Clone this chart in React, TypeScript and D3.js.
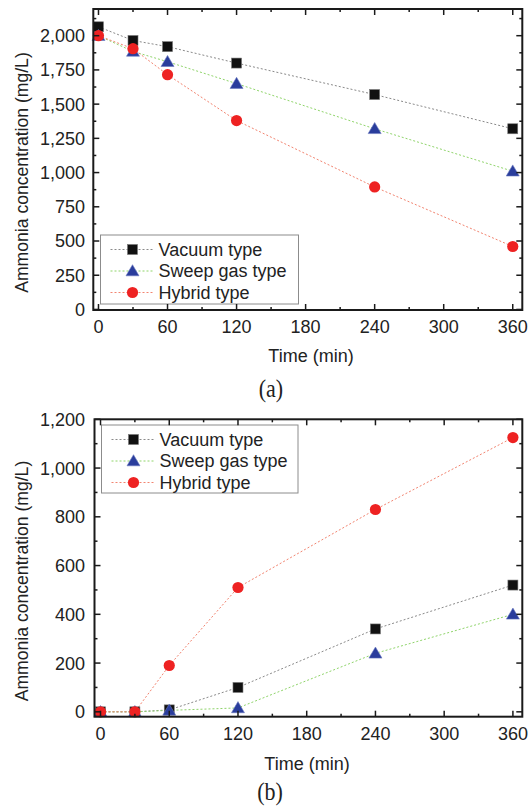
import React from 'react';
import * as d3 from 'd3';

// sampling times (min)
const times = [0, 30, 60, 120, 240, 360];

// (a) ammonia concentration in the feed, mg/L
const vacuumA = [2065, 1965, 1920, 1800, 1570, 1320];
const sweepA = [2000, 1885, 1810, 1650, 1320, 1010];
const hybridA = [2000, 1905, 1715, 1380, 895, 460];

// (b) ammonia concentration in the permeate, mg/L
const vacuumB = [0, 0, 8, 100, 340, 520];
const sweepB = [0, 0, 6, 16, 240, 400];
const hybridB = [0, 0, 190, 510, 830, 1125];

const seriesNames = ['Vacuum type', 'Sweep gas type', 'Hybrid type'];
const xMajor = [0, 60, 120, 180, 240, 300, 360];
const xMinor = [30, 90, 150, 210, 270, 330];
const yMajorA = [0, 250, 500, 750, 1000, 1250, 1500, 1750, 2000];
const yMinorA = [125, 375, 625, 875, 1125, 1375, 1625, 1875, 2125];
const yMajorB = [0, 200, 400, 600, 800, 1000, 1200];
const yMinorB = [100, 300, 500, 700, 900, 1100];

const styles = [
  { line: '#8a8a8a', fill: '#111111', shape: 'square' },
  { line: '#8fd46a', fill: '#2a3d9c', shape: 'triangle' },
  { line: '#f28470', fill: '#ee2222', shape: 'circle' },
];

const FONT = 'Arial, "Liberation Sans", Helvetica, sans-serif';
const TXT = '#222';

function Marker({ shape, x, y, fill }) {
  if (shape === 'square') {
    return <rect x={x - 5} y={y - 5} width={10} height={10} fill={fill} stroke="#777" strokeWidth={0.6} />;
  }
  if (shape === 'triangle') {
    const p = d3.path();
    p.moveTo(x, y - 6.3);
    p.lineTo(x + 6.5, y + 4.8);
    p.lineTo(x - 6.5, y + 4.8);
    p.closePath();
    return <path d={p.toString()} fill={fill} stroke="#6a78c0" strokeWidth={0.6} />;
  }
  return <circle cx={x} cy={y} r={5.6} fill={fill} />;
}

function Panel({ frame, xDomain, yDomain, yMajor, yMinor, data, legend, yTitleY, xTitle, caption }) {
  const x = d3.scaleLinear().domain(xDomain).range([frame.left, frame.right]);
  const y = d3.scaleLinear().domain(yDomain).range([frame.bottom, frame.top]);
  const fmt = d3.format(',');
  const line = d3
    .line<number>()
    .x((d, i) => x(times[i]))
    .y((d) => y(d));

  return (
    <g>
      {/* connecting lines */}
      {data.map((s, k) => (
        <path key={'l' + k} d={line(s)} fill="none" stroke={styles[k].line} strokeWidth={1} strokeDasharray="2,2" />
      ))}
      {/* markers */}
      {data.map((s, k) =>
        s.map((v, i) => <Marker key={k + '-' + i} shape={styles[k].shape} x={x(times[i])} y={y(v)} fill={styles[k].fill} />)
      )}

      {/* legend */}
      <rect x={legend.x} y={legend.y} width={legend.w} height={legend.h} fill="none" stroke="#8c8c8c" strokeWidth={1} />
      {seriesNames.map((name, k) => {
        const ly = legend.y + 14.5 + k * 21.5;
        return (
          <g key={name}>
            <line x1={legend.x + 10} x2={legend.x + 54} y1={ly} y2={ly} stroke={styles[k].line} strokeWidth={1} strokeDasharray="2,2" />
            <Marker shape={styles[k].shape} x={legend.x + 32} y={ly} fill={styles[k].fill} />
            <text x={legend.x + 58} y={ly} dy="0.36em" fontSize={18} fontFamily={FONT} fontStretch="normal" fill={TXT}>
              {name}
            </text>
          </g>
        );
      })}

      {/* frame */}
      <rect
        x={frame.left}
        y={frame.top}
        width={frame.right - frame.left}
        height={frame.bottom - frame.top}
        fill="none"
        stroke="#1a1a1a"
        strokeWidth={2}
      />

      {/* x ticks, inward on top and bottom */}
      {xMajor.map((t) => (
        <g key={'xM' + t}>
          <line x1={x(t)} x2={x(t)} y1={frame.bottom} y2={frame.bottom - 6} stroke="#1a1a1a" strokeWidth={1.5} />
          <line x1={x(t)} x2={x(t)} y1={frame.top} y2={frame.top + 6} stroke="#1a1a1a" strokeWidth={1.5} />
          <text x={x(t)} y={frame.bottom + 23} textAnchor="middle" fontSize={18} fontFamily={FONT} fill={TXT}>
            {t}
          </text>
        </g>
      ))}
      {xMinor.map((t) => (
        <g key={'xm' + t}>
          <line x1={x(t)} x2={x(t)} y1={frame.bottom} y2={frame.bottom - 3} stroke="#1a1a1a" strokeWidth={1.5} />
          <line x1={x(t)} x2={x(t)} y1={frame.top} y2={frame.top + 3} stroke="#1a1a1a" strokeWidth={1.5} />
        </g>
      ))}

      {/* y ticks, inward on left and right */}
      {yMajor.map((t) => (
        <g key={'yM' + t}>
          <line x1={frame.left} x2={frame.left + 6} y1={y(t)} y2={y(t)} stroke="#1a1a1a" strokeWidth={1.5} />
          <line x1={frame.right} x2={frame.right - 6} y1={y(t)} y2={y(t)} stroke="#1a1a1a" strokeWidth={1.5} />
          <text x={85} y={y(t)} dy="0.36em" textAnchor="end" fontSize={18} fontFamily={FONT} fill={TXT}>
            {fmt(t)}
          </text>
        </g>
      ))}
      {yMinor
        .filter((t) => t <= yDomain[1])
        .map((t) => (
          <g key={'ym' + t}>
            <line x1={frame.left} x2={frame.left + 3} y1={y(t)} y2={y(t)} stroke="#1a1a1a" strokeWidth={1.5} />
            <line x1={frame.right} x2={frame.right - 3} y1={y(t)} y2={y(t)} stroke="#1a1a1a" strokeWidth={1.5} />
          </g>
        ))}

      {/* axis titles */}
      <text x={xTitle.x} y={xTitle.y} textAnchor="middle" fontSize={18} fontFamily={FONT} fill={TXT}>
        Time (min)
      </text>
      <text
        transform={`translate(28,${yTitleY}) rotate(-90)`}
        textAnchor="middle"
        fontSize={17.6}
        fontFamily={FONT}
        fill={TXT}
      >
        Ammonia concentration (mg/L)
      </text>

      {/* caption */}
      <text
        transform={`translate(${caption.x},${caption.y}) scale(1,1.1)`}
        textAnchor="middle"
        fontSize={22}
        fontFamily='"Liberation Serif", "Times New Roman", serif'
        fill={TXT}
      >
        {caption.label}
      </text>
    </g>
  );
}

export default function App() {
  return (
    <svg width={532} height={811} style={{ position: 'absolute', left: 0, top: 0, background: 'white' }}>
      <Panel
        frame={{ left: 93.3, right: 522.3, top: 9, bottom: 310 }}
        xDomain={[-4.5, 368.3]}
        yDomain={[-4, 2195]}
        yMajor={yMajorA}
        yMinor={yMinorA}
        data={[vacuumA, sweepA, hybridA]}
        legend={{ x: 100.5, y: 235, w: 198, h: 69 }}
        yTitleY={172.5}
        xTitle={{ x: 311, y: 361.5 }}
        caption={{ x: 271, y: 397, label: '(a)' }}
      />
      <Panel
        frame={{ left: 94.5, right: 522.3, top: 419.3, bottom: 716.7 }}
        xDomain={[-5.25, 368.2]}
        yDomain={[-20, 1200]}
        yMajor={yMajorB}
        yMinor={yMinorB}
        data={[vacuumB, sweepB, hybridB]}
        legend={{ x: 101.5, y: 425, w: 196.5, h: 68 }}
        yTitleY={581}
        xTitle={{ x: 307, y: 769.5 }}
        caption={{ x: 270, y: 800, label: '(b)' }}
      />
    </svg>
  );
}
